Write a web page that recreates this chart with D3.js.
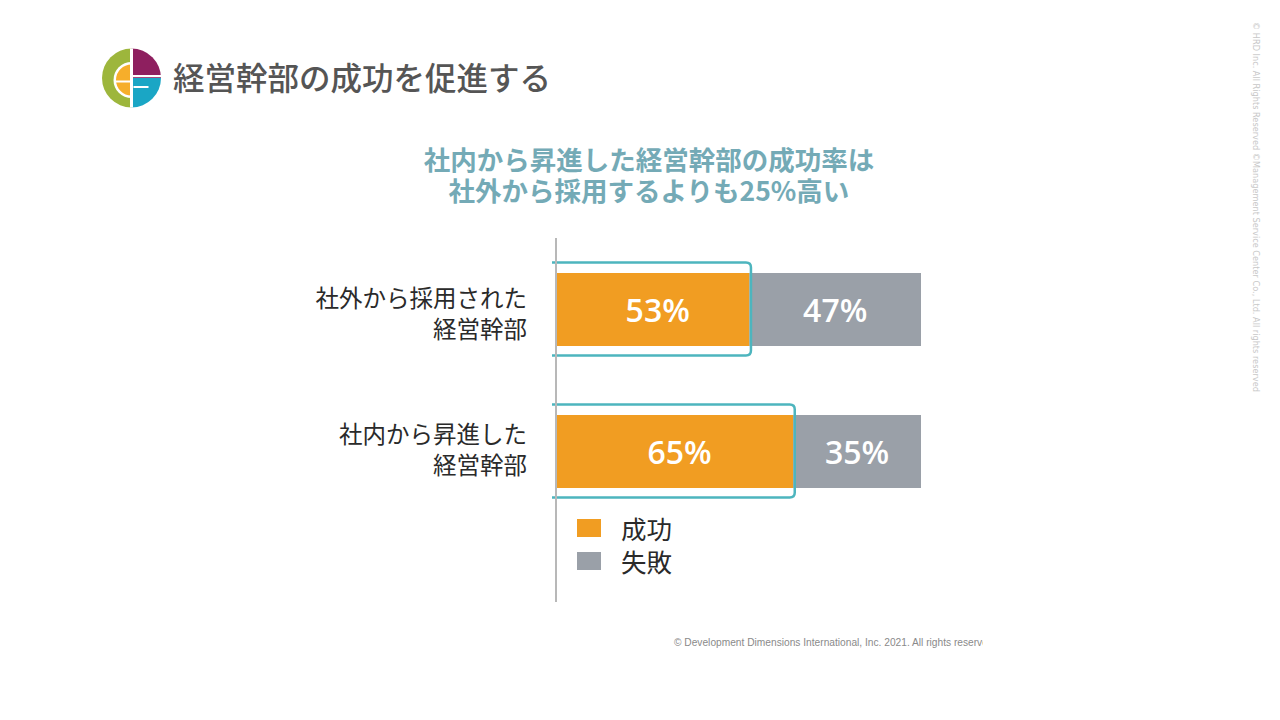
<!DOCTYPE html>
<html><head><meta charset="utf-8">
<script src="https://cdn.jsdelivr.net/npm/d3@7"></script>
<style>
html,body{margin:0;padding:0;background:#fff;}
svg{display:block;}
</style></head>
<body>
<svg id="c" width="1280" height="720"></svg>
<script>
const categories = [["社外から採用された","経営幹部"],["社内から昇進した","経営幹部"]];
const categoryKeys = ["external","internal"];
const success = [53, 65];
const failure = [47, 35];
const seriesNames = ["成功","失敗"];
const pageTitle = "経営幹部の成功を促進する";
const subtitle = ["社内から昇進した経営幹部の成功率は","社外から採用するよりも25%高い"];
const footer = "© Development Dimensions International, Inc. 2021. All rights reserved.";
const sideNote = "© HRD Inc. All Rights Reserved  ©Management Service Center Co., Ltd.  All rights reserved";

const svg = d3.select("#c");
const JP = "'Noto Sans CJK JP','Noto Sans',sans-serif";
const colOrange = "#f19d22", colGray = "#9aa0a8", colTeal = "#4db5be";

// Logo
const lg = svg.append("g").attr("transform","translate(131.5,78)");
const R = 29.5;
const arc = d3.arc();
lg.append("path").attr("d", arc({innerRadius:0,outerRadius:R,startAngle:Math.PI,endAngle:2*Math.PI})).attr("fill","#9db63c");
lg.append("path").attr("d", arc({innerRadius:0,outerRadius:R,startAngle:0,endAngle:Math.PI/2})).attr("fill","#8e1f5f");
lg.append("path").attr("d", arc({innerRadius:0,outerRadius:R,startAngle:Math.PI/2,endAngle:Math.PI})).attr("fill","#1aa6c5");
lg.append("path").attr("d", arc({innerRadius:0,outerRadius:18,startAngle:Math.PI,endAngle:2*Math.PI})).attr("fill","#fff").attr("transform","translate(0,2)");
lg.append("path").attr("d", arc({innerRadius:0,outerRadius:15.5,startAngle:Math.PI,endAngle:2*Math.PI})).attr("fill","#f6ae2b").attr("transform","translate(0,2)");
lg.append("rect").attr("x",-16).attr("y",2.5).attr("width",16).attr("height",2).attr("fill","#fff");
lg.append("rect").attr("x",-1.5).attr("y",-R).attr("width",3).attr("height",2*R).attr("fill","#fff");
lg.append("rect").attr("x",0).attr("y",-3).attr("width",R).attr("height",2.2).attr("fill","#fff");
lg.append("rect").attr("x",2).attr("y",8).attr("width",15).attr("height",2).attr("fill","#fff");

svg.append("text").attr("x",173).attr("y",90).attr("font-family",JP).attr("font-size",31.5)
  .attr("font-weight",500).attr("fill","#555").text(pageTitle);

// Subtitle (one text, two lines)
svg.append("text").attr("text-anchor","middle")
  .attr("font-family",JP).attr("font-size",26.5).attr("font-weight",700).attr("fill","#74aab6")
  .selectAll("tspan").data(subtitle).join("tspan")
  .attr("x",649).attr("y",(d,i)=>170+i*31).text(d=>d);

// Scales
const x = d3.scaleLinear().domain([0,100]).range([556,921]);
const y = d3.scaleBand().domain(categoryKeys).range([238.5,522.5]).paddingInner(0.486).paddingOuter(0.243);

const rows = categoryKeys.map((k,i)=>({k, lab:categories[i], s:success[i], f:failure[i]}));

// Bars
const g = svg.append("g");
g.selectAll("rect.s").data(rows).join("rect").attr("class","s")
  .attr("x",x(0)).attr("y",d=>y(d.k)).attr("width",d=>x(d.s)-x(0)).attr("height",y.bandwidth()).attr("fill",colOrange);
g.selectAll("rect.f").data(rows).join("rect").attr("class","f")
  .attr("x",d=>x(d.s)).attr("y",d=>y(d.k)).attr("width",d=>x(d.s+d.f)-x(d.s)).attr("height",y.bandwidth()).attr("fill",colGray);

// Teal outline around success
g.selectAll("path.o").data(rows).join("path").attr("class","o")
  .attr("d",d=>{
    const x0=x(0)-4, x1=x(d.s)+1.5, y0=y(d.k)-10.5, y1=y(d.k)+y.bandwidth()+9.5, r=5;
    return `M${x0},${y0}H${x1-r}Q${x1},${y0} ${x1},${y0+r}V${y1-r}Q${x1},${y1} ${x1-r},${y1}H${x0}`;
  })
  .attr("fill","none").attr("stroke",colTeal).attr("stroke-width",2.5);

// Value labels
const NUM = "'Open Sans','Noto Sans',sans-serif";
g.selectAll("text.sv").data(rows).join("text").attr("class","sv")
  .attr("x",d=>(x(0)+x(d.s))/2+5).attr("y",d=>y(d.k)+y.bandwidth()/2+12)
  .attr("text-anchor","middle").attr("font-family",NUM).attr("font-size",32).attr("font-weight",600)
  .attr("fill","#fff").text(d=>d.s+"%");
g.selectAll("text.fv").data(rows).join("text").attr("class","fv")
  .attr("x",d=>(x(d.s)+x(d.s+d.f))/2).attr("y",d=>y(d.k)+y.bandwidth()/2+12)
  .attr("text-anchor","middle").attr("font-family",NUM).attr("font-size",32).attr("font-weight",600)
  .attr("fill","#fff").text(d=>d.f+"%");

// Axis line
svg.append("line").attr("x1",556).attr("x2",556).attr("y1",238).attr("y2",602)
  .attr("stroke","#b8b8b8").attr("stroke-width",2);

// Category labels (one text per category, two lines)
const labelShift = [-3, -9];
rows.forEach((d,j)=>{
  const cy = y(d.k)+y.bandwidth()/2+labelShift[j];
  svg.append("text").attr("text-anchor","end")
    .attr("font-family",JP).attr("font-size",23.5).attr("font-weight",400).attr("fill","#2a2a2a")
    .selectAll("tspan").data(d.lab).join("tspan")
    .attr("x",527).attr("y",(t,i)=>cy+i*31).text(t=>t);
});

// Legend
const legCols=[colOrange,colGray];
const lgd = svg.append("g");
lgd.selectAll("rect").data(seriesNames).join("rect")
  .attr("x",577).attr("y",(d,i)=>519+i*33).attr("width",24).attr("height",18).attr("fill",(d,i)=>legCols[i]);
lgd.selectAll("text").data(seriesNames).join("text")
  .attr("x",621).attr("y",(d,i)=>539+i*33).attr("font-family",JP).attr("font-size",25.5).attr("fill","#2a2a2a").text(d=>d);

// Footer (clipped)
svg.append("clipPath").attr("id","fc").append("rect").attr("x",660).attr("y",625).attr("width",323).attr("height",30);
svg.append("text").attr("x",674).attr("y",646).attr("clip-path","url(#fc)")
  .attr("font-family","'Liberation Sans',Arial,sans-serif").attr("font-size",10.2).attr("fill","#8a8a8a").text(footer);

// Side note
svg.append("text").attr("transform","translate(1253,22) rotate(90)")
  .attr("font-family","'DejaVu Sans',sans-serif").attr("font-size",8.2).attr("fill","#c8c8c8").text(sideNote);
</script>
</body></html>
